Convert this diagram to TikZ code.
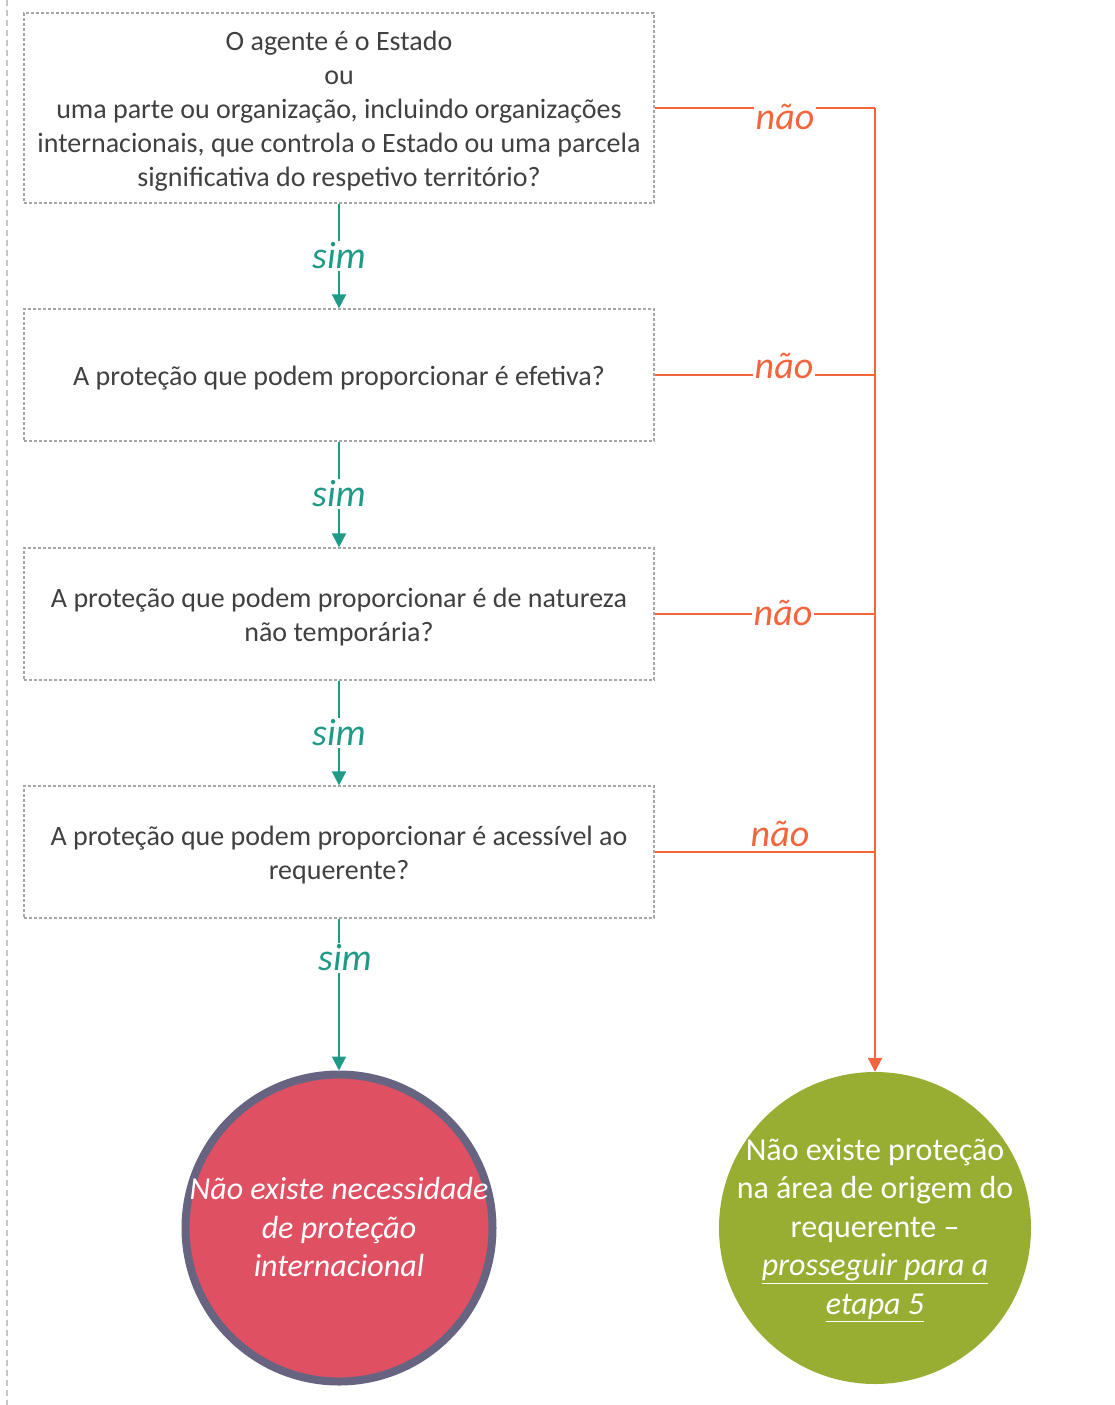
\documentclass[tikz,border=0pt]{standalone}
\usepackage{fontspec}
\setmainfont{Carlito}
\usetikzlibrary{arrows.meta}
\definecolor{boxtext}{HTML}{404040}
\definecolor{boxline}{HTML}{A6A6A6}
\definecolor{simcol}{HTML}{1E9A87}
\definecolor{naocol}{HTML}{F2653D}
\definecolor{redfill}{HTML}{E05063}
\definecolor{redrim}{HTML}{676482}
\definecolor{greenfill}{HTML}{98AE33}
\begin{document}
\begin{tikzpicture}[x=1pt,y=-1pt,
  question/.style={draw=boxline, line width=1.3pt, dash pattern=on 3pt off 2pt,
    minimum width=630pt, inner sep=0pt},
  questext/.style={inner sep=0pt, align=center, text=boxtext,
    font=\fontsize{28}{34}\selectfont},
  yesline/.style={draw=simcol, line width=2pt, -{Triangle[width=14pt,length=14pt]}},
  noline/.style={draw=naocol, line width=2pt},
  yeslabel/.style={fill=white, inner sep=2pt, text=simcol, font=\fontsize{38}{40}\selectfont\itshape},
  nolabel/.style={fill=white, inner sep=2pt, text=naocol, font=\fontsize{38}{40}\selectfont\itshape},
  endcircle/.style={circle, inner sep=0pt},
  endtext/.style={inner sep=0pt, align=center, text=white,
    font=\fontsize{32}{38.5}\selectfont}]
\useasboundingbox (0,0) rectangle (1114,1405);

% page margin guide
\draw[draw=black!22, line width=2pt, dash pattern=on 6pt off 4pt] (7,0) -- (7,1405);

% questions
\node[question, minimum height=190pt] (q1) at (339,108) {};
\node[questext] (q1t) at (339,111)
  {O agente é o Estado\\ou\\uma parte ou organização, incluindo organizações\\internacionais, que controla o Estado ou uma parcela\\significativa do respetivo território?};
\node[question, minimum height=132pt] (q2) at (339,375) {};
\node[questext] (q2t) at (339,378)
  {A proteção que podem proporcionar é efetiva?};
\node[question, minimum height=132pt] (q3) at (339,614) {};
\node[questext] (q3t) at (339,617)
  {A proteção que podem proporcionar é de natureza\\não temporária?};
\node[question, minimum height=132pt] (q4) at (339,852) {};
\node[questext] (q4t) at (339,855)
  {A proteção que podem proporcionar é acessível ao\\requerente?};

% outcomes
\node[endcircle, fill=redfill, draw=redrim, line width=8pt, minimum size=307pt] (neg) at (339,1228) {};
\node[endtext, font=\fontsize{32}{38.5}\selectfont\itshape] (negt) at (339,1227)
  {Não existe necessidade\\de proteção\\internacional};
\node[endcircle, fill=greenfill, minimum size=312pt] (pos) at (875,1228) {};
\node[endtext] (post) at (875,1230)
  {Não existe proteção\\na área de origem do\\requerente –\\\itshape\underline{prosseguir para a}\\\itshape\underline{etapa 5}};

% "sim" branches
\draw[yesline] (q1.south) -- (q2.north);
\draw[yesline] (q2.south) -- (q3.north);
\draw[yesline] (q3.south) -- (q4.north);
\draw[yesline] (q4.south) -- (neg.north);
\node[yeslabel] (s1) at (339,256) {sim};
\node[yeslabel] (s2) at (339,494) {sim};
\node[yeslabel] (s3) at (339,733) {sim};
\node[yeslabel] (s4) at (345,958) {sim};

% "não" branches
\coordinate (c1) at (q1.east -| pos.north);
\draw[noline] (q1.east) -- (c1);
\draw[noline] (q2.east) -- (q2.east -| pos.north);
\draw[noline] (q3.east) -- (q3.east -| pos.north);
\draw[noline] (q4.east) -- (q4.east -| pos.north);
\draw[noline, -{Triangle[width=14pt,length=14pt]}] (c1) -- (pos.north);
\node[nolabel] (n1) at (785,117) {não};
\node[nolabel] (n2) at (784,366) {não};
\node[nolabel] (n3) at (783,613) {não};
\node[nolabel] (n4) at (780,834) {não};
\end{tikzpicture}
\end{document}
